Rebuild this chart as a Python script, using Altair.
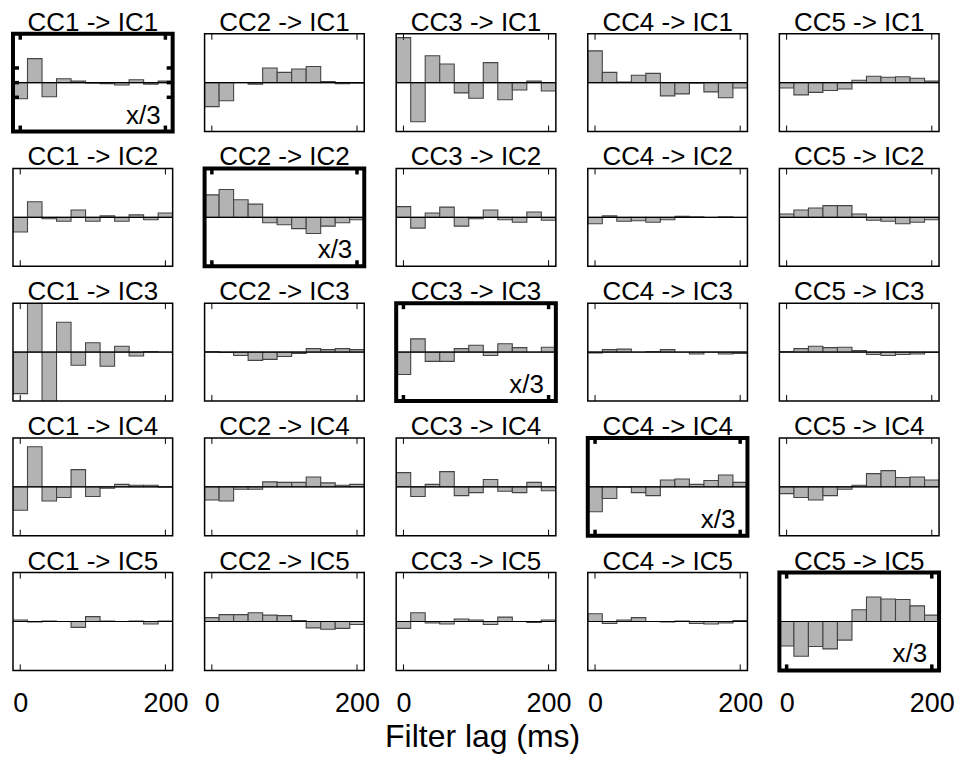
import altair as alt
import pandas as pd

FONT = "Liberation Sans"
W, H = 160, 98

cc_names = ["CC1", "CC2", "CC3", "CC4", "CC5"]
ic_names = ["IC1", "IC2", "IC3", "IC4", "IC5"]
lags = [0, 20, 40, 60, 80, 100, 120, 140, 160, 180, 200]
x_tick_values = [0, 200]
cc1_ic1_y_ticks = [-0.3, 0.0, 0.3]
bin_half_width = 10

# filter weights, one list of 11 lags per CC source, for each IC target
ic1 = [
    [-0.33, 0.49, -0.29, 0.08, 0.03, -0.01, -0.02, -0.05, 0.06, -0.03, 0.03],
    [-0.49, -0.37, 0.00, -0.03, 0.30, 0.21, 0.28, 0.33, 0.02, -0.02, -0.01],
    [0.92, -0.80, 0.55, 0.38, -0.21, -0.32, 0.41, -0.35, -0.15, 0.03, -0.17],
    [0.65, 0.21, 0.01, 0.15, 0.19, -0.27, -0.23, -0.01, -0.19, -0.31, -0.11],
    [-0.11, -0.25, -0.20, -0.16, -0.13, 0.05, 0.13, 0.11, 0.12, 0.09, 0.03],
]
ic2 = [
    [-0.30, 0.32, -0.03, -0.08, 0.15, -0.08, 0.03, -0.08, 0.05, -0.05, 0.09],
    [0.46, 0.57, 0.36, 0.27, -0.11, -0.15, -0.23, -0.33, -0.18, -0.11, -0.05],
    [0.22, -0.22, 0.09, 0.21, -0.18, -0.03, 0.15, -0.05, -0.10, 0.11, -0.06],
    [-0.13, 0.03, -0.08, -0.07, -0.10, -0.05, 0.02, 0.01, 0.00, 0.01, 0.00],
    [0.07, 0.15, 0.19, 0.24, 0.24, 0.07, -0.06, -0.08, -0.13, -0.10, -0.05],
]
ic3 = [
    [-0.85, 1.15, -1.20, 0.61, -0.27, 0.19, -0.29, 0.12, -0.08, 0.01, 0.00],
    [0.01, -0.01, -0.07, -0.17, -0.15, -0.09, -0.03, 0.07, 0.05, 0.07, 0.05],
    [-0.46, 0.27, -0.19, -0.19, 0.07, 0.14, -0.07, 0.17, 0.09, 0.00, 0.10],
    [-0.02, 0.05, 0.06, 0.00, 0.01, 0.05, 0.00, -0.04, 0.00, -0.04, -0.03],
    [0.01, 0.07, 0.12, 0.09, 0.10, 0.03, -0.05, -0.07, -0.05, -0.04, -0.01],
]
ic4 = [
    [-0.48, 0.82, -0.29, -0.22, 0.35, -0.20, -0.03, 0.05, 0.03, 0.03, -0.01],
    [-0.27, -0.29, -0.05, -0.05, 0.10, 0.09, 0.09, 0.20, 0.08, 0.03, 0.05],
    [0.29, -0.20, 0.05, 0.31, -0.18, -0.12, 0.15, -0.09, -0.12, 0.09, -0.08],
    [-0.51, -0.24, -0.01, -0.12, -0.18, 0.14, 0.16, 0.05, 0.13, 0.24, 0.09],
    [-0.14, -0.22, -0.27, -0.18, -0.05, 0.03, 0.27, 0.33, 0.19, 0.20, 0.14],
]
ic5 = [
    [0.03, -0.01, 0.01, 0.00, -0.12, 0.10, 0.01, 0.00, 0.01, -0.05, 0.01],
    [0.08, 0.14, 0.14, 0.18, 0.13, 0.12, 0.02, -0.13, -0.16, -0.14, -0.06],
    [-0.14, 0.18, -0.03, -0.05, 0.05, 0.03, -0.06, 0.09, 0.00, -0.02, 0.03],
    [0.16, -0.04, 0.03, 0.08, 0.00, -0.01, 0.01, -0.04, -0.05, -0.03, 0.02],
    [-0.50, -0.71, -0.51, -0.56, -0.38, 0.24, 0.50, 0.46, 0.45, 0.32, 0.13],
]
all_ics = [ic1, ic2, ic3, ic4, ic5]

rows = []
titles = []
for i, ic in enumerate(ic_names):
    for j, cc in enumerate(cc_names):
        title = f"{cc} -> {ic}"
        titles.append(title)
        diag = i == j
        for lag, v in zip(lags, all_ics[i][j]):
            rows.append(dict(title=title, kind="bar", lag=lag, value=v, diag=diag))
        rows.append(dict(title=title, kind="frame", lag=0, value=0.0, diag=diag))
        for t in x_tick_values:
            rows.append(dict(title=title, kind="xtick", lag=t, value=0.0, diag=diag))
        if i == 0 and j == 0:
            for yt in cc1_ic1_y_ticks:
                rows.append(dict(title=title, kind="ytick", lag=0, value=yt, diag=diag))
df = pd.DataFrame(rows)

xscale = alt.Scale(domain=[lags[0] - bin_half_width, lags[-1] + bin_half_width], nice=False, zero=False)
yscale = alt.Scale(domain=[-1, 1], nice=False, zero=False)
xaxis = alt.Axis(values=x_tick_values, ticks=False, domain=False, grid=False,
                 title=None, labelFontSize=27, labelFont=FONT, labelColor="black",
                 labelPadding=20, labelFlush=False, labelOverlap=False)

base = alt.Chart()

bars = base.transform_filter(alt.datum.kind == "bar").transform_calculate(
    x0=f"datum.lag - {bin_half_width}", x1=f"datum.lag + {bin_half_width}"
).mark_rect(clip=True, fill="#b3b3b3", stroke="#444444", strokeWidth=1.1).encode(
    x=alt.X("x0:Q", scale=xscale, axis=xaxis),
    x2="x1:Q",
    y=alt.Y("value:Q", scale=yscale, axis=None),
    y2=alt.Y2(datum=0),
)

zero = base.transform_filter(alt.datum.kind == "frame").mark_rule(
    color="black", strokeWidth=1.2
).encode(y=alt.Y(datum=0, scale=yscale, axis=None))

frame = base.transform_filter(alt.datum.kind == "frame").mark_rect(
    fillOpacity=0, stroke="black"
).encode(
    x=alt.value(0), x2=alt.value(W), y=alt.value(0), y2=alt.value(H),
    strokeWidth=alt.condition("datum.diag", alt.value(4), alt.value(1.5)),
)

panel_title = base.transform_filter(alt.datum.kind == "frame").mark_text(
    font=FONT, fontSize=26, align="center", baseline="alphabetic", color="black"
).encode(x=alt.value(W / 2), y=alt.value(-3), text="title:N")

tick_w = alt.condition("datum.diag", alt.value(3.5), alt.value(1))
xt_top = base.transform_filter(alt.datum.kind == "xtick").mark_rule(color="black").encode(
    x=alt.X("lag:Q", scale=xscale, axis=xaxis), y=alt.value(0), y2=alt.value(6), strokeWidth=tick_w)
xt_bot = base.transform_filter(alt.datum.kind == "xtick").mark_rule(color="black").encode(
    x=alt.X("lag:Q", scale=xscale, axis=xaxis), y=alt.value(H - 6), y2=alt.value(H), strokeWidth=tick_w)
yt_left = base.transform_filter(alt.datum.kind == "ytick").mark_rule(color="black", strokeWidth=3.5).encode(
    y=alt.Y("value:Q", scale=yscale, axis=None), x=alt.value(0), x2=alt.value(6))
yt_right = base.transform_filter(alt.datum.kind == "ytick").mark_rule(color="black", strokeWidth=3.5).encode(
    y=alt.Y("value:Q", scale=yscale, axis=None), x=alt.value(W - 6), x2=alt.value(W))

label = base.transform_filter("datum.kind == 'frame' && datum.diag").mark_text(
    text="x/3", font=FONT, fontSize=26, align="right", baseline="alphabetic", color="black"
).encode(x=alt.value(W - 12), y=alt.value(H - 8))

layered = alt.layer(bars, zero, frame, xt_top, xt_bot, yt_left, yt_right, label, panel_title,
                    data=df).properties(width=W, height=H)

chart = layered.facet(
    facet=alt.Facet("title:N", sort=titles, title=None,
                    header=alt.Header(labelExpr="''", labelFontSize=1, labelPadding=0)),
    columns=5,
    spacing={"row": 37, "column": 32},
    bounds="flush",
).properties(
    title=alt.TitleParams("Filter lag (ms)", orient="bottom", anchor="middle",
                          fontSize=32, font=FONT, fontWeight="normal", color="black", offset=6),
    padding={"left": 3, "top": 0, "right": 5, "bottom": 4},
).configure_view(stroke=None)

chart.save("out.html", embed_options={"renderer": "svg", "actions": False})
